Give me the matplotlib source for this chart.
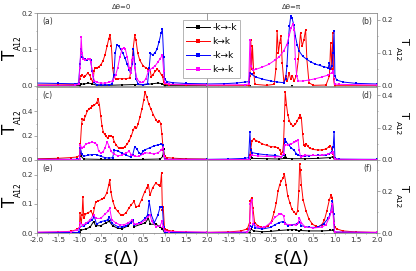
import numpy as np
import matplotlib
matplotlib.use("Agg")
import matplotlib.pyplot as plt
from matplotlib.ticker import MultipleLocator

# ---- panel (a): dtheta = 0 ----
a_mm_x = [-2.0, -1.0, -0.97, -0.9, -0.8, -0.7, -0.6, -0.3, 0.0, 0.3, 0.5, 0.7, 0.85, 0.95, 1.0, 2.0]
a_mm_y = [0.0005, 0.001, 0.006, 0.005, 0.008, 0.006, 0.002, 0.002, 0.003, 0.004, 0.003, 0.006, 0.008, 0.006, 0.001, 0.0005]
a_pp_x = [-2.0, -1.5, -1.1, -1.02, -1.0, -0.97, -0.94, -0.9, -0.86, -0.81, -0.76, -0.72, -0.68, -0.66, -0.64, -0.6,
          -0.55, -0.5, -0.45, -0.4, -0.35, -0.31, -0.28, -0.25, -0.22, -0.19, -0.15, -0.1, 0.0, 0.1, 0.18, 0.22,
          0.26, 0.3, 0.33, 0.37, 0.42, 0.5, 0.56, 0.62, 0.66, 0.69, 0.72, 0.78, 0.83, 0.88, 0.93, 0.96, 0.98,
          1.0, 1.1, 1.5, 2.0]
a_pp_y = [0.003, 0.003, 0.004, 0.006, 0.02, 0.028, 0.03, 0.025, 0.028, 0.035, 0.03, 0.018, 0.01, 0.04, 0.05, 0.05,
          0.052, 0.058, 0.068, 0.085, 0.11, 0.13, 0.14, 0.11, 0.05, 0.025, 0.02, 0.02, 0.02, 0.02, 0.022, 0.05,
          0.1, 0.139, 0.125, 0.09, 0.07, 0.055, 0.05, 0.046, 0.045, 0.025, 0.03, 0.04, 0.046, 0.04, 0.03, 0.025, 0.01,
          0.005, 0.004, 0.003, 0.003]
a_mp_x = [-2.0, -1.5, -1.1, -1.02, -0.99, -0.96, -0.93, -0.88, -0.82, -0.77, -0.74, -0.7, -0.66, -0.6, -0.5, -0.4,
          -0.3, -0.24, -0.19, -0.16, -0.12, -0.08, -0.03, 0.02, 0.07, 0.12, 0.17, 0.2, 0.24, 0.27, 0.3, 0.33,
          0.38, 0.5, 0.6, 0.64, 0.67, 0.72, 0.77, 0.82, 0.87, 0.92, 0.95, 0.98, 1.0, 1.05, 1.2, 1.5, 2.0]
a_mp_y = [0.008, 0.007, 0.006, 0.008, 0.06, 0.1, 0.08, 0.073, 0.072, 0.073, 0.07, 0.04, 0.01, 0.004, 0.003, 0.003,
          0.004, 0.005, 0.03, 0.09, 0.113, 0.11, 0.1, 0.09, 0.077, 0.06, 0.045, 0.035, 0.06, 0.1, 0.06, 0.02,
          0.005, 0.004, 0.006, 0.05, 0.09, 0.085, 0.09, 0.1, 0.12, 0.145, 0.156, 0.08, 0.02, 0.012, 0.009, 0.007, 0.006]
a_pm_x = [-2.0, -1.1, -1.02, -0.99, -0.96, -0.94, -0.91, -0.86, -0.8, -0.76, -0.73, -0.69, -0.65, -0.6, -0.5, -0.4,
          -0.3, -0.22, -0.15, -0.1, -0.05, 0.0, 0.04, 0.08, 0.12, 0.17, 0.2, 0.24, 0.27, 0.3, 0.35, 0.42,
          0.5, 0.56, 0.62, 0.66, 0.72, 0.78, 0.84, 0.9, 0.95, 0.98, 1.0, 1.1, 2.0]
a_pm_y = [0.002, 0.002, 0.005, 0.05, 0.134, 0.09, 0.075, 0.072, 0.073, 0.075, 0.065, 0.03, 0.015, 0.01, 0.008, 0.008,
          0.01, 0.015, 0.03, 0.05, 0.08, 0.1, 0.105, 0.1, 0.08, 0.05, 0.035, 0.07, 0.08, 0.05, 0.02, 0.01,
          0.01, 0.02, 0.04, 0.045, 0.05, 0.055, 0.065, 0.075, 0.085, 0.04, 0.008, 0.005, 0.003]

# ---- panel (b): dtheta = pi ----
b_mm_x = [-2.0, -1.0, 0.0, 1.0, 2.0]
b_mm_y = [0.001, 0.001, 0.001, 0.001, 0.001]
b_pp_x = [-2.0, -1.02, -0.99, -0.97, -0.95, -0.93, -0.9, -0.87, -0.6, -0.42, -0.38, -0.35, -0.32, -0.29, -0.26,
          -0.23, -0.19, -0.15, -0.11, -0.07, -0.03, 0.01, 0.05, 0.1, 0.15, 0.2, 0.24, 0.28, 0.32, 0.35, 0.4,
          0.5, 0.8, 0.88, 0.91, 0.94, 0.96, 0.98, 1.0, 2.0]
b_pp_y = [0.001, 0.001, 0.03, 0.14, 0.05, 0.12, 0.04, 0.005, 0.002, 0.005, 0.05, 0.165, 0.1, 0.13, 0.15,
          0.07, 0.01, 0.03, 0.015, 0.04, 0.02, 0.03, 0.015, 0.03, 0.08, 0.16, 0.12, 0.14, 0.17, 0.08, 0.01,
          0.002, 0.003, 0.03, 0.13, 0.05, 0.16, 0.02, 0.001, 0.001]
b_mp_x = [-2.0, -1.6, -1.3, -1.1, -1.02, -0.99, -0.95, -0.85, -0.7, -0.5, -0.35, -0.2, -0.15, -0.12, -0.09, -0.06,
          -0.03, 0.0, 0.04, 0.08, 0.12, 0.17, 0.25, 0.35, 0.45, 0.55, 0.65, 0.75, 0.85, 0.88, 0.9, 0.94, 0.97,
          0.99, 1.01, 1.05, 1.2, 1.5, 2.0]
b_mp_y = [0.006, 0.007, 0.009, 0.012, 0.013, 0.04, 0.035, 0.027, 0.021, 0.015, 0.012, 0.01, 0.02, 0.06, 0.13, 0.18,
          0.21, 0.205, 0.185, 0.15, 0.125, 0.105, 0.09, 0.08, 0.072, 0.066, 0.062, 0.058, 0.055, 0.07, 0.05, 0.06, 0.1,
          0.165, 0.03, 0.018, 0.012, 0.008, 0.006]
b_pm_x = [-2.0, -1.1, -1.02, -0.99, -0.96, -0.92, -0.85, -0.7, -0.55, -0.4, -0.3, -0.2, -0.12, -0.06, -0.02, 0.02,
          0.05, 0.08, 0.11, 0.15, 0.25, 0.4, 0.55, 0.7, 0.85, 0.93, 0.97, 1.0, 1.1, 2.0]
b_pm_y = [0.003, 0.004, 0.006, 0.14, 0.06, 0.048, 0.05, 0.057, 0.065, 0.078, 0.088, 0.105, 0.125, 0.155, 0.175, 0.188,
          0.17, 0.08, 0.03, 0.015, 0.015, 0.018, 0.022, 0.027, 0.033, 0.04, 0.045, 0.006, 0.005, 0.003]

# ---- panel (c) ----
c_mm_x = [-2.0, -1.0, -0.98, -0.96, -0.9, -0.5, 0.0, 0.5, 0.9, 0.96, 0.98, 1.0, 2.0]
c_mm_y = [0.0, 0.002, 0.1, 0.03, 0.008, 0.005, 0.004, 0.005, 0.008, 0.03, 0.09, 0.002, 0.0]
c_pp_x = [-2.0, -1.5, -1.2, -1.05, -1.0, -0.98, -0.95, -0.93, -0.9, -0.86, -0.82, -0.78, -0.74, -0.7, -0.65, -0.6,
          -0.56, -0.53, -0.5, -0.47, -0.44, -0.41, -0.38, -0.34, -0.3, -0.26, -0.22, -0.18, -0.13, -0.08, -0.03,
          0.02, 0.07, 0.12, 0.17, 0.22, 0.27, 0.3, 0.34, 0.38, 0.42, 0.47, 0.51, 0.54, 0.58, 0.63, 0.68, 0.74,
          0.8, 0.84, 0.88, 0.91, 0.94, 0.97, 1.0, 1.05, 1.2, 1.5, 2.0]
c_pp_y = [0.01, 0.014, 0.02, 0.025, 0.04, 0.13, 0.3, 0.34, 0.33, 0.36, 0.4, 0.42, 0.43, 0.44, 0.45, 0.47,
          0.5, 0.45, 0.36, 0.28, 0.23, 0.21, 0.2, 0.18, 0.2, 0.2, 0.19, 0.15, 0.12, 0.1, 0.095,
          0.097, 0.11, 0.13, 0.16, 0.2, 0.25, 0.27, 0.26, 0.3, 0.35, 0.42, 0.49, 0.56, 0.52, 0.46, 0.42, 0.37,
          0.33, 0.31, 0.32, 0.3, 0.21, 0.08, 0.03, 0.02, 0.015, 0.01, 0.008]
c_mp_x = [-2.0, -1.05, -1.0, -0.98, -0.95, -0.9, -0.8, -0.7, -0.6, -0.5, -0.4, -0.3, -0.22, -0.18, -0.1, 0.0,
          0.1, 0.2, 0.25, 0.3, 0.35, 0.4, 0.45, 0.5, 0.55, 0.65, 0.75, 0.85, 0.92, 0.96, 0.99, 1.02, 2.0]
c_mp_y = [0.006, 0.006, 0.01, 0.1, 0.05, 0.03, 0.04, 0.045, 0.045, 0.03, 0.02, 0.015, 0.02, 0.08, 0.075, 0.055,
          0.04, 0.025, 0.04, 0.11, 0.09, 0.06, 0.05, 0.07, 0.085, 0.1, 0.115, 0.125, 0.13, 0.12, 0.03, 0.006, 0.006]
c_pm_x = [-2.0, -1.05, -1.0, -0.98, -0.95, -0.9, -0.85, -0.78, -0.7, -0.63, -0.58, -0.55, -0.5, -0.45, -0.4, -0.35,
          -0.3, -0.25, -0.2, -0.1, 0.0, 0.1, 0.17, 0.22, 0.3, 0.4, 0.5, 0.55, 0.65, 0.75, 0.85, 0.92, 0.96,
          0.99, 1.02, 2.0]
c_pm_y = [0.003, 0.004, 0.01, 0.125, 0.1, 0.11, 0.13, 0.14, 0.145, 0.14, 0.12, 0.07, 0.06, 0.065, 0.1, 0.15,
          0.11, 0.07, 0.05, 0.035, 0.04, 0.06, 0.07, 0.045, 0.03, 0.03, 0.05, 0.06, 0.055, 0.05, 0.06, 0.08, 0.1,
          0.03, 0.004, 0.003]

# ---- panel (d) ----
d_mm_x = [-2.0, -1.0, -0.97, -0.94, -0.6, -0.3, -0.18, -0.16, -0.13, 0.0, 0.3, 0.6, 0.9, 0.96, 1.0, 2.0]
d_mm_y = [0.0, 0.001, 0.03, 0.01, 0.008, 0.006, 0.01, 0.03, 0.01, 0.008, 0.008, 0.01, 0.015, 0.02, 0.001, 0.0]
d_pp_x = [-2.0, -1.02, -0.99, -0.97, -0.94, -0.9, -0.84, -0.77, -0.7, -0.6, -0.5, -0.4, -0.33, -0.28, -0.25, -0.22,
          -0.2, -0.18, -0.16, -0.13, -0.1, -0.06, -0.02, 0.03, 0.08, 0.12, 0.16, 0.19, 0.22, 0.25, 0.28, 0.31,
          0.34, 0.37, 0.42, 0.5, 0.6, 0.7, 0.8, 0.86, 0.9, 0.94, 0.97, 1.0, 1.05, 2.0]
d_pp_y = [0.002, 0.003, 0.03, 0.07, 0.12, 0.128, 0.12, 0.11, 0.1, 0.09, 0.083, 0.08, 0.076, 0.06, 0.04, 0.05,
          0.1, 0.24, 0.42, 0.34, 0.28, 0.24, 0.22, 0.21, 0.22, 0.24, 0.26, 0.275, 0.26, 0.16, 0.09, 0.085,
          0.097, 0.085, 0.072, 0.065, 0.062, 0.062, 0.068, 0.08, 0.088, 0.07, 0.04, 0.005, 0.003, 0.002]
d_mp_x = [-2.0, -1.5, -1.1, -1.02, -0.99, -0.97, -0.93, -0.8, -0.6, -0.4, -0.25, -0.2, -0.17, -0.13, -0.08, -0.02,
          0.05, 0.1, 0.15, 0.2, 0.3, 0.4, 0.6, 0.8, 0.88, 0.93, 0.97, 0.99, 1.01, 1.1, 2.0]
d_mp_y = [0.004, 0.006, 0.01, 0.015, 0.175, 0.06, 0.045, 0.038, 0.032, 0.028, 0.02, 0.03, 0.128, 0.11, 0.093, 0.075,
          0.06, 0.04, 0.03, 0.025, 0.025, 0.027, 0.028, 0.03, 0.04, 0.05, 0.08, 0.175, 0.01, 0.005, 0.004]
d_pm_x = [-2.0, -1.02, -0.99, -0.95, -0.8, -0.6, -0.4, -0.25, -0.2, -0.17, -0.1, -0.02, 0.05, 0.1, 0.14, 0.17,
          0.2, 0.25, 0.3, 0.5, 0.7, 0.85, 0.93, 0.97, 1.0, 2.0]
d_pm_y = [0.002, 0.003, 0.02, 0.03, 0.025, 0.022, 0.02, 0.02, 0.04, 0.09, 0.095, 0.1, 0.108, 0.115, 0.124, 0.06,
          0.02, 0.025, 0.03, 0.028, 0.03, 0.035, 0.045, 0.05, 0.005, 0.002]

# ---- panel (e) ----
e_mm_x = [-2.0, -1.0, -0.96, -0.85, -0.75, -0.67, -0.62, -0.5, -0.38, -0.3, -0.22, -0.1, 0.0, 0.15, 0.25, 0.29,
          0.45, 0.55, 0.62, 0.67, 0.8, 0.9, 0.95, 1.0, 2.0]
e_mm_y = [0.0, 0.001, 0.01, 0.014, 0.02, 0.039, 0.025, 0.025, 0.035, 0.04, 0.025, 0.016, 0.015, 0.025, 0.045, 0.022,
          0.03, 0.035, 0.05, 0.03, 0.03, 0.02, 0.015, 0.001, 0.0]
e_pp_x = [-2.0, -1.5, -1.2, -1.05, -1.0, -0.99, -0.96, -0.94, -0.92, -0.9, -0.86, -0.8, -0.73, -0.68, -0.65, -0.62,
          -0.56, -0.48, -0.42, -0.36, -0.31, -0.29, -0.26, -0.22, -0.16, -0.1, -0.03, 0.03, 0.1, 0.16, 0.22,
          0.28, 0.33, 0.39, 0.46, 0.53, 0.58, 0.62, 0.66, 0.72, 0.79, 0.86, 0.9, 0.93, 0.95, 0.97, 1.0, 1.05,
          1.2, 1.5, 2.0]
e_pp_y = [0.002, 0.003, 0.006, 0.012, 0.02, 0.068, 0.033, 0.06, 0.125, 0.05, 0.064, 0.07, 0.074, 0.062, 0.085, 0.106,
          0.11, 0.115, 0.12, 0.137, 0.165, 0.183, 0.14, 0.11, 0.085, 0.074, 0.062, 0.062, 0.07, 0.085, 0.097,
          0.108, 0.09, 0.092, 0.114, 0.14, 0.154, 0.165, 0.13, 0.155, 0.17, 0.165, 0.16, 0.205, 0.08, 0.09, 0.015, 0.01,
          0.006, 0.003, 0.002]
e_mp_x = [-2.0, -1.02, -0.99, -0.9, -0.8, -0.7, -0.65, -0.6, -0.5, -0.4, -0.34, -0.3, -0.24, -0.1, 0.0, 0.1,
          0.2, 0.25, 0.29, 0.4, 0.55, 0.6, 0.64, 0.69, 0.76, 0.84, 0.9, 0.95, 0.98, 1.0, 2.0]
e_mp_y = [0.001, 0.002, 0.022, 0.025, 0.035, 0.045, 0.056, 0.03, 0.039, 0.042, 0.045, 0.055, 0.033, 0.022, 0.02, 0.025,
          0.035, 0.045, 0.028, 0.033, 0.05, 0.062, 0.108, 0.062, 0.035, 0.06, 0.09, 0.09, 0.02, 0.002, 0.001]
e_pm_x = [-2.0, -1.2, -1.05, -1.0, -0.98, -0.92, -0.85, -0.75, -0.67, -0.62, -0.5, -0.4, -0.33, -0.29, -0.24, -0.15,
          -0.05, 0.05, 0.15, 0.24, 0.28, 0.36, 0.44, 0.55, 0.62, 0.66, 0.7, 0.8, 0.9, 0.94, 0.97, 1.0, 1.1, 2.0]
e_pm_y = [0.003, 0.005, 0.01, 0.02, 0.033, 0.028, 0.033, 0.045, 0.062, 0.05, 0.05, 0.065, 0.074, 0.085, 0.045, 0.035,
          0.028, 0.028, 0.035, 0.045, 0.03, 0.032, 0.033, 0.045, 0.056, 0.062, 0.04, 0.022, 0.025, 0.04, 0.02, 0.008,
          0.005, 0.003]

# ---- panel (f) ----
f_mm_x = [-2.0, -1.0, -0.97, -0.9, -0.7, -0.5, -0.3, -0.1, 0.0, 0.1, 0.17, 0.2, 0.4, 0.7, 0.9, 0.97, 1.0, 2.0]
f_mm_y = [0.0, 0.001, 0.02, 0.01, 0.006, 0.008, 0.012, 0.015, 0.016, 0.016, 0.008, 0.012, 0.01, 0.01, 0.012, 0.015,
          0.001, 0.0]
f_pp_x = [-2.0, -1.5, -1.2, -1.05, -1.0, -0.98, -0.95, -0.92, -0.88, -0.8, -0.72, -0.64, -0.56, -0.48, -0.42, -0.37,
          -0.33, -0.29, -0.25, -0.21, -0.18, -0.14, -0.1, -0.05, 0.0, 0.05, 0.1, 0.13, 0.16, 0.18, 0.2, 0.22,
          0.26, 0.33, 0.4, 0.48, 0.56, 0.62, 0.7, 0.76, 0.82, 0.88, 0.92, 0.95, 0.97, 1.0, 1.05, 1.2, 1.5, 2.0]
f_pp_y = [0.003, 0.005, 0.01, 0.02, 0.05, 0.153, 0.17, 0.12, 0.05, 0.035, 0.027, 0.027, 0.035, 0.058, 0.1, 0.145,
          0.2, 0.232, 0.25, 0.263, 0.282, 0.232, 0.177, 0.145, 0.113, 0.1, 0.09, 0.106, 0.2, 0.33, 0.3, 0.232,
          0.16, 0.106, 0.066, 0.043, 0.032, 0.03, 0.04, 0.06, 0.106, 0.16, 0.18, 0.17, 0.1, 0.03, 0.02, 0.01, 0.005,
          0.003]
f_mp_x = [-2.0, -1.05, -0.99, -0.95, -0.9, -0.86, -0.7, -0.5, -0.4, -0.3, -0.22, -0.17, -0.1, 0.0, 0.12, 0.17,
          0.22, 0.4, 0.6, 0.75, 0.85, 0.9, 0.95, 0.98, 1.0, 2.0]
f_mp_y = [0.002, 0.003, 0.035, 0.03, 0.043, 0.025, 0.019, 0.027, 0.04, 0.05, 0.055, 0.05, 0.035, 0.04, 0.043, 0.055,
          0.035, 0.027, 0.027, 0.045, 0.07, 0.09, 0.153, 0.09, 0.005, 0.002]
f_pm_x = [-2.0, -1.05, -1.0, -0.98, -0.95, -0.91, -0.8, -0.65, -0.5, -0.4, -0.3, -0.25, -0.2, -0.16, -0.05, 0.1,
          0.15, 0.17, 0.22, 0.3, 0.5, 0.7, 0.8, 0.88, 0.92, 0.95, 0.98, 1.0, 2.0]
f_pm_y = [0.003, 0.005, 0.02, 0.137, 0.16, 0.043, 0.028, 0.027, 0.05, 0.075, 0.09, 0.093, 0.082, 0.043, 0.04, 0.038,
          0.05, 0.074, 0.05, 0.03, 0.024, 0.028, 0.04, 0.074, 0.1, 0.137, 0.05, 0.005, 0.003]

labels = ["-k\u2192-k", "k\u2192k", "-k\u2192k", "k\u2192-k"]
colors = ["black", "#ff0000", "#0000ff", "#ff00ff"]
panel_tags = ["(a)", "(b)", "(c)", "(d)", "(e)", "(f)"]
ylims = [0.2, 0.22, 0.6, 0.45, 0.25, 0.35]
yticks = [[0, 0.1, 0.2], [0, 0.1, 0.2], [0, 0.2, 0.4], [0, 0.2, 0.4], [0, 0.1, 0.2], [0, 0.2]]
yminor = [0.05, 0.05, 0.1, 0.1, 0.05, 0.1]
xticks = [-2.0, -1.5, -1.0, -0.5, 0.0, 0.5, 1.0, 1.5, 2.0]

panels = [
    [(a_mm_x, a_mm_y), (a_pp_x, a_pp_y), (a_mp_x, a_mp_y), (a_pm_x, a_pm_y)],
    [(b_mm_x, b_mm_y), (b_pp_x, b_pp_y), (b_mp_x, b_mp_y), (b_pm_x, b_pm_y)],
    [(c_mm_x, c_mm_y), (c_pp_x, c_pp_y), (c_mp_x, c_mp_y), (c_pm_x, c_pm_y)],
    [(d_mm_x, d_mm_y), (d_pp_x, d_pp_y), (d_mp_x, d_mp_y), (d_pm_x, d_pm_y)],
    [(e_mm_x, e_mm_y), (e_pp_x, e_pp_y), (e_mp_x, e_mp_y), (e_pm_x, e_pm_y)],
    [(f_mm_x, f_mm_y), (f_pp_x, f_pp_y), (f_mp_x, f_mp_y), (f_pm_x, f_pm_y)],
]

W, H = 416, 271
fig = plt.figure(figsize=(W / 100, H / 100), dpi=100)

col_x = [37, 207]
row_top = [13, 87, 160]
ax_w, ax_h = 170, 73

spine_col = "#8c8c8c"
tick_col = "#333333"

axes = []
for i in range(6):
    r, c = i // 2, i % 2
    x0 = col_x[c] / W
    y0 = 1 - (row_top[r] + ax_h) / H
    ax = fig.add_axes([x0, y0, ax_w / W, ax_h / H])
    axes.append(ax)

    for (xs, ys), col, lab in zip(panels[i], colors, labels):
        ax.plot(xs, ys, color=col, lw=0.7, marker="s", ms=1.7, mew=0, label=lab)

    ax.set_xlim(-2, 2)
    ax.set_ylim(0, ylims[i])
    ax.set_xticks(xticks)
    ax.xaxis.set_minor_locator(MultipleLocator(0.25))
    ax.set_yticks(yticks[i])
    ax.yaxis.set_minor_locator(MultipleLocator(yminor[i]))
    ax.tick_params(which="both", direction="out", colors=spine_col, labelcolor=tick_col,
                   labelsize=5.2, width=0.5, pad=1)
    ax.tick_params(which="major", length=2)
    ax.tick_params(which="minor", length=1)
    for sp in ax.spines.values():
        sp.set_color(spine_col)
        sp.set_linewidth(0.6)

    if c == 1:
        ax.yaxis.tick_right()
        ax.yaxis.set_ticks_position("right")
    if r < 2:
        ax.tick_params(axis="x", labelbottom=False)
    else:
        lbls = ["%.1f" % v for v in xticks]
        if c == 1:
            lbls[0] = ""
        ax.set_xticklabels(lbls)

    if c == 0:
        ax.text(0.03, 0.88, panel_tags[i], transform=ax.transAxes, fontsize=5.5, color=tick_col,
                ha="left", va="center")
    else:
        ax.text(0.97, 0.88, panel_tags[i], transform=ax.transAxes, fontsize=5.5, color=tick_col,
                ha="right", va="center")

    # y axis labels T_A12
    yc = 1 - (row_top[r] + ax_h / 2) / H
    if c == 0:
        fig.text(10 / W, yc - 5 / H, "T", fontsize=12, rotation=90, ha="center", va="center")
        fig.text(18 / W, yc + 7 / H, "A12", fontsize=5.5, rotation=90, ha="center", va="center")
    else:
        fig.text(404 / W, yc + 8 / H, "T", fontsize=8, rotation=270, ha="center", va="center")
        fig.text(397.5 / W, yc - 5 / H, "A12", fontsize=5.2, rotation=270, ha="center", va="center")

fig.text(122 / W, 1 - 7 / H, "\u0394\u03b8=0", fontsize=5, ha="center", va="center", color=tick_col)
fig.text(292 / W, 1 - 7 / H, "\u0394\u03b8=\u03c0", fontsize=5, ha="center", va="center", color=tick_col)

fig.text(122 / W, 1 - 259 / H, "\u03b5(\u0394)", fontsize=13, ha="center", va="center")
fig.text(292 / W, 1 - 259 / H, "\u03b5(\u0394)", fontsize=13, ha="center", va="center")

handles, labs = axes[0].get_legend_handles_labels()
leg = fig.legend(handles, labs, loc="upper left", bbox_to_anchor=(178 / W, 1 - 15 / H),
                 fontsize=6.5, numpoints=1, handlelength=2.6, handletextpad=0.3,
                 labelspacing=0.55, borderpad=0.4, fancybox=False, framealpha=1,
                 edgecolor="#aaaaaa")
leg.get_frame().set_linewidth(0.6)
for h in leg.legend_handles:
    h.set_markersize(2.5)

fig.savefig("out.png", dpi=100)
